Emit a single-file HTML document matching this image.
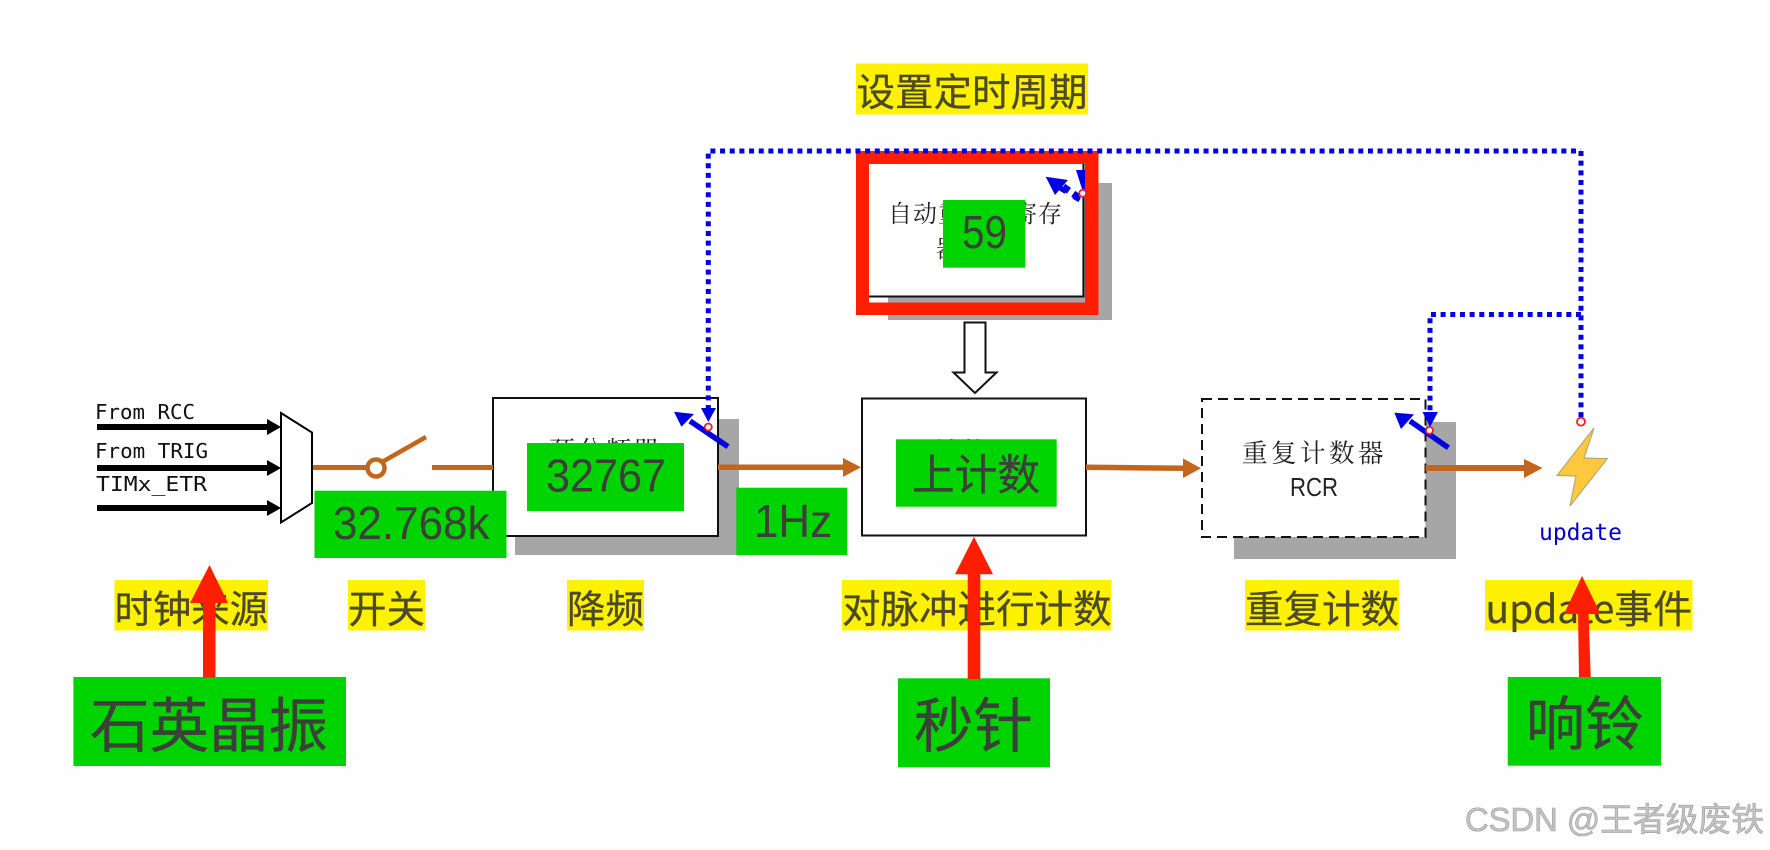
<!DOCTYPE html>
<html><head><meta charset="utf-8"><style>
html,body{margin:0;padding:0;background:#fff;width:1770px;height:850px;overflow:hidden}
svg{display:block}
.sans{font-family:"Liberation Sans","Noto Sans CJK SC",sans-serif}
.cjk{font-family:"Noto Sans CJK SC",sans-serif}
.ser{font-family:"Noto Serif CJK SC",serif}
.mono{font-family:"DejaVu Sans Mono","Liberation Mono",monospace}
</style></head><body>
<svg width="1770" height="850" viewBox="0 0 1770 850" xmlns="http://www.w3.org/2000/svg">
<rect width="1770" height="850" fill="#fefefe"/>

<!-- shadows -->
<rect x="515" y="419" width="224" height="136" fill="#a6a6a6"/>
<rect x="888" y="183" width="224" height="137" fill="#a6a6a6"/>
<rect x="1234" y="422" width="222" height="137" fill="#a6a6a6"/>

<!-- boxes -->
<rect x="493" y="398" width="225" height="138" fill="#fff" stroke="#111" stroke-width="2"/>
<rect x="862" y="398.5" width="224" height="137" fill="#fff" stroke="#111" stroke-width="2"/>
<rect x="859" y="160" width="224.500" height="136.500" fill="#fff" stroke="#111" stroke-width="2"/>
<rect x="1202" y="399" width="223.500" height="138" fill="#fff" stroke="#111" stroke-width="2" stroke-dasharray="10 6"/>

<!-- box text -->
<text class="ser" x="549" y="460" font-size="26" letter-spacing="2" fill="#222">预分频器</text>
<text class="ser" x="935" y="460" font-size="25" letter-spacing="1" fill="#222">计数器</text>
<text class="ser" x="888" y="222" font-size="24" letter-spacing="1" fill="#222">自动重装载寄存</text>
<text class="ser" x="936" y="257" font-size="24" fill="#222">器</text>
<text class="ser" x="1242" y="462" font-size="25.500" letter-spacing="3.500" fill="#222">重复计数器</text>
<text class="sans" x="1290" y="496" font-size="26" fill="#222" textLength="48" lengthAdjust="spacingAndGlyphs">RCR</text>

<!-- input text -->
<text class="mono" x="95" y="419" font-size="20.800" fill="#111" textLength="100" lengthAdjust="spacingAndGlyphs">From RCC</text>
<text class="mono" x="95" y="458" font-size="20.800" fill="#111" textLength="113" lengthAdjust="spacingAndGlyphs">From TRIG</text>
<text class="mono" x="96" y="491" font-size="20.800" fill="#111" textLength="111" lengthAdjust="spacingAndGlyphs">TIMx_ETR</text>

<!-- input arrows -->
<g fill="#000">
<rect x="97" y="424" width="172" height="6"/><polygon points="267,419 281,427 267,435"/>
<rect x="97" y="465" width="172" height="6"/><polygon points="267,460 281,468 267,476"/>
<rect x="97" y="505" width="172" height="6"/><polygon points="267,500 281,508 267,516"/>
</g>
<polygon points="281,413 312,432.500 312,503 281,522.500" fill="#fff" stroke="#000" stroke-width="2"/>

<!-- switch -->
<g stroke="#c4651c" fill="none">
<line x1="313" y1="467.500" x2="368" y2="467.500" stroke-width="5"/>
<circle cx="376" cy="468" r="8.500" stroke-width="4.500" fill="#fff"/>
<line x1="383" y1="461.500" x2="426" y2="437" stroke-width="4.500"/>
<line x1="432" y1="467.500" x2="493" y2="467.500" stroke-width="5"/>
</g>

<!-- orange arrows -->
<g fill="#c4651c">
<rect x="718" y="464.500" width="126" height="5.500"/><polygon points="843,458 861,467.300 843,477"/>
<polygon points="1086,464.500 1184,465.500 1184,471 1086,470"/><polygon points="1183,458.500 1201,468.300 1183,478"/>
<rect x="1425.500" y="465" width="100" height="6"/><polygon points="1524,459 1542.500,468 1524,478"/>
</g>

<!-- hollow arrow -->
<polygon points="964.500,322.500 985.500,322.500 985.500,372.500 996.500,372.500 975,393 953.500,372.500 964.500,372.500" fill="#fff" stroke="#111" stroke-width="2"/>

<!-- solid blue tails under red frame -->
<line x1="1060" y1="188" x2="1101" y2="213" stroke="#0000e0" stroke-width="5" stroke-dasharray="7 9"/>

<!-- red frame -->
<path d="M856 151H1098.500V315H856Z M869 164V302.500H1085V164Z" fill="#ff1e00" fill-rule="evenodd"/>
<rect x="1082.400" y="164" width="2" height="133" fill="#111"/>
<rect x="869" y="295.500" width="215" height="2" fill="#111"/>
<rect x="888" y="297.500" width="197" height="5" fill="#a6a6a6"/>
<rect x="869" y="297.500" width="19" height="5" fill="#fff"/>

<!-- dotted lines -->
<g fill="none" stroke="#0000e0" stroke-width="5" stroke-dasharray="5 4.670">
<path d="M708.300 410V151H1581"/>
<path d="M1581 151V418"/>
<path d="M1581 314.500H1430V412"/>
</g>
<!-- dotted heads -->
<g fill="#0000e0">
<polygon points="701,408 716,408 708.300,422"/>
<polygon points="1422.500,412 1438,412 1430,427"/>
<polygon points="1076,170 1085,170 1085,189 1082,189"/>
<!-- autoreload small -->
<polygon points="1045.700,176.700 1068,180 1055,195"/>
<rect x="1063" y="185" width="7" height="7" transform="rotate(35 1066 188)"/>
<rect x="1073" y="192" width="7" height="7" transform="rotate(35 1076 195)"/>
<!-- diagonal blue arrows -->
<line x1="728" y1="446.700" x2="690" y2="421" stroke="#0000e0" stroke-width="5.500"/>
<polygon points="674,411.700 694,414 681.400,426.700"/>
<line x1="1448.400" y1="447.800" x2="1410" y2="421" stroke="#0000e0" stroke-width="5.500"/>
<polygon points="1394.300,412.600 1414,414.400 1401,429"/>
</g>
<!-- red points -->
<g fill="#fff" stroke="#ee2020" stroke-width="1.800">
<circle cx="708.300" cy="427" r="3.500"/>
<circle cx="1429.500" cy="430.400" r="3.500"/>
<circle cx="1581" cy="421.700" r="4"/>
<circle cx="1082.700" cy="193.300" r="3.500"/>
</g>

<!-- lightning -->
<polygon points="1594,428 1584,458 1607.300,458.700 1570,506 1576,476 1557,475.400" fill="#ffc83d" stroke="#b5a878" stroke-width="1.200"/>
<text class="mono" x="1539" y="540" font-size="23" fill="#0000c8" textLength="83" lengthAdjust="spacingAndGlyphs">update</text>

<!-- yellow labels -->
<g fill="#fff200">
<rect x="856" y="63.500" width="232" height="51"/>
<rect x="114.500" y="580" width="153.500" height="50.500"/>
<rect x="348" y="580" width="77" height="50.500"/>
<rect x="567" y="580" width="77" height="50.500"/>
<rect x="842" y="580" width="269.500" height="50.500"/>
<rect x="1245" y="580" width="154" height="50.500"/>
<rect x="1485" y="580" width="207.500" height="50.500"/>
</g>
<g class="cjk" font-size="38.500" fill="#4c4a25" stroke="#4c4a25" stroke-width="0.300">
<text x="856.500" y="106" textLength="231" lengthAdjust="spacingAndGlyphs">设置定时周期</text>
<text x="114.500" y="623" textLength="153.500" lengthAdjust="spacingAndGlyphs">时钟来源</text>
<text x="348" y="623" textLength="77" lengthAdjust="spacingAndGlyphs">开关</text>
<text x="567" y="623" textLength="77" lengthAdjust="spacingAndGlyphs">降频</text>
<text x="842" y="623" textLength="269.500" lengthAdjust="spacingAndGlyphs">对脉冲进行计数</text>
<text x="1245" y="623" textLength="154" lengthAdjust="spacingAndGlyphs">重复计数</text>
<text x="1485.500" y="623" textLength="206.500" lengthAdjust="spacingAndGlyphs">update事件</text>
</g>

<!-- green labels -->
<g fill="#00d400">
<rect x="527" y="443" width="157" height="68"/>
<rect x="314.500" y="490.700" width="192" height="67.300"/>
<rect x="736.300" y="487.700" width="111" height="67.300"/>
<rect x="896" y="439.300" width="160.700" height="67.400"/>
<rect x="943" y="200" width="82.300" height="67.700"/>
<rect x="73.400" y="677" width="272.600" height="89"/>
<rect x="898" y="678.300" width="152" height="89"/>
<rect x="1507.700" y="677" width="153.300" height="88.700"/>
</g>
<g class="sans" fill="#3c3f3a">
<text x="546" y="491.500" font-size="46" textLength="120" lengthAdjust="spacingAndGlyphs">32767</text>
<text x="333" y="539" font-size="46" textLength="156.500" lengthAdjust="spacingAndGlyphs">32.768k</text>
<text x="754" y="537" font-size="46" textLength="78" lengthAdjust="spacingAndGlyphs">1Hz</text>
<text x="962" y="248" font-size="46" textLength="45" lengthAdjust="spacingAndGlyphs">59</text>
</g>
<g class="cjk" fill="#3c3f3a" stroke="#3c3f3a" stroke-width="0.300">
<text x="912" y="490" font-size="42.500" textLength="128" lengthAdjust="spacingAndGlyphs">上计数</text>
<text x="90" y="747" font-size="59.500" textLength="238" lengthAdjust="spacingAndGlyphs">石英晶振</text>
<text x="914" y="747" font-size="59.500" textLength="119" lengthAdjust="spacingAndGlyphs">秒针</text>
<text x="1526" y="745" font-size="59" textLength="118" lengthAdjust="spacingAndGlyphs">响铃</text>
</g>

<!-- red arrows -->
<g fill="#ff1e00">
<rect x="203" y="600" width="12.500" height="77.500"/><polygon points="209.500,565 228,603 190,603"/>
<rect x="967.700" y="572" width="12.600" height="107"/><polygon points="974,536.700 993,574.300 955,574.300"/>
<polygon points="1578,612 1588.500,612 1590.700,677 1579,677"/><polygon points="1582,576 1600.600,614 1564,614"/>
</g>

<!-- watermark -->
<text class="sans" x="1465" y="831" font-size="33" fill="#c4c4c4" stroke="#9a9a9a" stroke-width="0.600" textLength="299" lengthAdjust="spacingAndGlyphs">CSDN @王者级废铁</text>
</svg>
</body></html>
